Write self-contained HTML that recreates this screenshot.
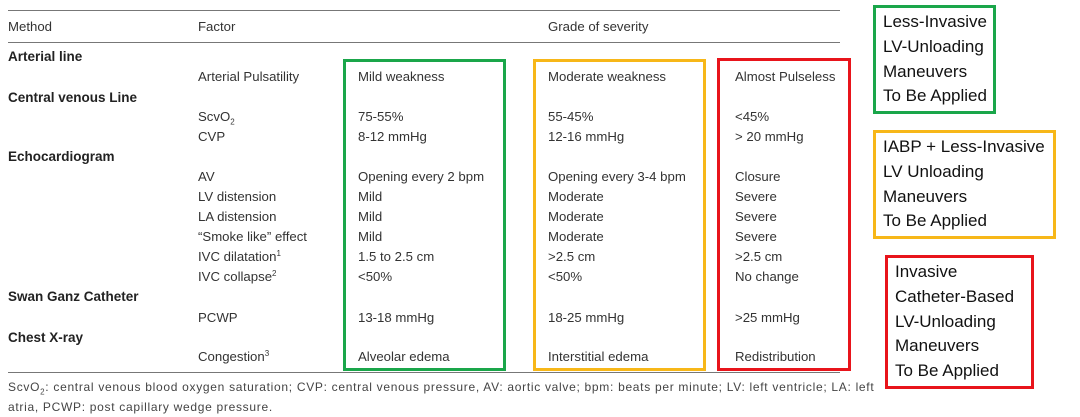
<!DOCTYPE html>
<html><head><meta charset="utf-8"><style>
body{margin:0;width:1080px;height:417px;background:#fff;position:relative;overflow:hidden;font-family:"Liberation Sans",sans-serif;color:#333}
.t{position:absolute;font-size:13.2px;white-space:nowrap;line-height:14px}
.b{font-weight:bold;font-size:13.5px;color:#222}
.hl{position:absolute;left:8px;width:832px;height:0;border-top:1.5px solid #777}
.box{position:absolute;box-sizing:border-box;border:3px solid}
.rb{position:absolute;box-sizing:border-box;border:3px solid;padding:2px 0 0 7px;font-size:17px;line-height:24.8px;color:#111;white-space:nowrap}
sub,sup{font-size:8px;line-height:0}
sup{vertical-align:5px}
.fn{font-size:12px;letter-spacing:0.7px;color:#444}
</style></head><body>
<div class="hl" style="top:10px"></div>
<div class="hl" style="top:42px"></div>
<div class="hl" style="top:372px"></div>

<div class="box" style="left:343px;top:59px;width:163px;height:312px;border-color:#1aa64a"></div>
<div class="box" style="left:533px;top:59px;width:173px;height:312px;border-color:#f7b718"></div>
<div class="box" style="left:717px;top:58px;width:134px;height:313px;border-color:#e8141b"></div>

<div id="tbl"></div>

<div class="t fn" style="left:8px;top:380px">ScvO<sub>2</sub>: central venous blood oxygen saturation; CVP: central venous pressure, AV: aortic valve; bpm: beats per minute; LV: left ventricle; LA: left</div>
<div class="t fn" style="left:8px;top:400px">atria, PCWP: post capillary wedge pressure.</div>

<div class="rb" style="left:873px;top:5px;width:123px;height:109px;border-color:#1aa64a">Less-Invasive<br>LV-Unloading<br>Maneuvers<br>To Be Applied</div>
<div class="rb" style="left:873px;top:130px;width:183px;height:109px;border-color:#f7b718">IABP + Less-Invasive<br>LV Unloading<br>Maneuvers<br>To Be Applied</div>
<div class="rb" style="left:885px;top:255px;width:149px;height:134px;border-color:#e8141b">Invasive<br>Catheter-Based<br>LV-Unloading<br>Maneuvers<br>To Be Applied</div>

<script>
const rows=[
[20,'h','Method','Factor','','Grade of severity',''],
[50,'s','Arterial line'],
[70,'r','','Arterial Pulsatility','Mild weakness','Moderate weakness','Almost Pulseless'],
[91,'s','Central venous Line'],
[110,'r','','ScvO<sub>2</sub>','75-55%','55-45%','&lt;45%'],
[130,'r','','CVP','8-12 mmHg','12-16 mmHg','&gt; 20 mmHg'],
[150,'s','Echocardiogram'],
[170,'r','','AV','Opening every 2 bpm','Opening every 3-4 bpm','Closure'],
[190,'r','','LV distension','Mild','Moderate','Severe'],
[210,'r','','LA distension','Mild','Moderate','Severe'],
[230,'r','','“Smoke like” effect','Mild','Moderate','Severe'],
[250,'r','','IVC dilatation<sup>1</sup>','1.5 to 2.5 cm','&gt;2.5 cm','&gt;2.5 cm'],
[270,'r','','IVC collapse<sup>2</sup>','&lt;50%','&lt;50%','No change'],
[290,'s','Swan Ganz Catheter'],
[311,'r','','PCWP','13-18 mmHg','18-25 mmHg','&gt;25 mmHg'],
[331,'s','Chest X-ray'],
[350,'r','','Congestion<sup>3</sup>','Alveolar edema','Interstitial edema','Redistribution']
];
const xs=[8,198,358,548,735];
const tb=document.getElementById('tbl');
rows.forEach(r=>{
  for(let i=0;i<5;i++){
    const v=r[2+i];if(!v)continue;
    const d=document.createElement('div');
    d.className='t'+(r[1]==='s'?' b':'');
    
    
    d.style.left=xs[i]+'px';d.style.top=r[0]+'px';
    d.innerHTML=v;tb.appendChild(d);
  }
});
</script>
</body></html>
